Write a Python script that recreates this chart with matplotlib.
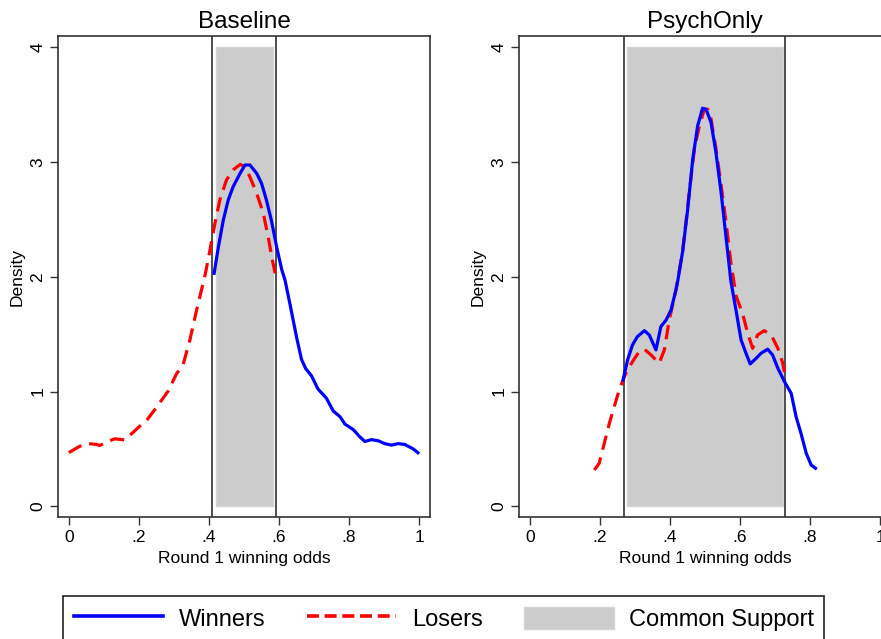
import matplotlib
matplotlib.use("Agg")
import matplotlib.pyplot as plt
from matplotlib.lines import Line2D
from matplotlib.patches import Patch

plt.rcParams['font.family'] = ['Liberation Sans', 'DejaVu Sans']

# ---------------- data ----------------
panel_titles = ["Baseline", "PsychOnly"]
x_ticks = [0, 0.2, 0.4, 0.6, 0.8, 1.0]
x_tick_labels = ["0", ".2", ".4", ".6", ".8", "1"]
y_ticks = [0, 1, 2, 3, 4]
y_tick_labels = ["0", "1", "2", "3", "4"]

# Baseline
base_los_x = [0.0, 0.031, 0.055, 0.079, 0.088, 0.117, 0.131, 0.16, 0.169, 0.203, 0.222, 0.25,
              0.284, 0.307, 0.326, 0.345, 0.364, 0.389, 0.403, 0.417, 0.431, 0.45, 0.469,
              0.489, 0.503, 0.517, 0.536, 0.555, 0.569, 0.579, 0.589]
base_los_y = [0.468, 0.523, 0.546, 0.539, 0.53, 0.571, 0.588, 0.578, 0.604, 0.70, 0.749, 0.862,
              1.007, 1.153, 1.233, 1.443, 1.701, 2.017, 2.235, 2.465, 2.67, 2.845, 2.932,
              2.98, 2.96, 2.87, 2.73, 2.555, 2.35, 2.176, 2.03]
base_win_x = [0.414, 0.427, 0.441, 0.455, 0.469, 0.489, 0.503, 0.517, 0.536, 0.55, 0.564, 0.579,
              0.593, 0.608, 0.617, 0.631, 0.65, 0.664, 0.676, 0.693, 0.711, 0.735, 0.755,
              0.774, 0.788, 0.812, 0.831, 0.845, 0.864, 0.883, 0.902, 0.921, 0.94, 0.959,
              0.983, 1.0]
base_win_y = [2.017, 2.263, 2.496, 2.67, 2.786, 2.903, 2.975, 2.975, 2.903, 2.816, 2.67, 2.481,
              2.263, 2.06, 1.973, 1.766, 1.475, 1.282, 1.201, 1.136, 1.023, 0.943, 0.83,
              0.781, 0.717, 0.668, 0.604, 0.565, 0.581, 0.571, 0.546, 0.533, 0.546, 0.539,
              0.5, 0.458]
base_bounds = [0.41, 0.591]
base_support = [0.419, 0.582]

# PsychOnly
psy_los_x = [0.184, 0.198, 0.227, 0.255, 0.274, 0.293, 0.312, 0.327, 0.346, 0.369, 0.384,
             0.398, 0.417, 0.436, 0.455, 0.47, 0.484, 0.498, 0.508, 0.517, 0.531, 0.546,
             0.56, 0.574, 0.589, 0.607, 0.622, 0.636, 0.65, 0.669, 0.689, 0.708, 0.722,
             0.731]
psy_los_y = [0.316, 0.375, 0.724, 1.014, 1.16, 1.261, 1.348, 1.369, 1.319, 1.247, 1.363,
             1.624, 1.886, 2.218, 2.734, 3.122, 3.316, 3.461, 3.461, 3.38, 3.122, 2.799,
             2.476, 2.121, 1.83, 1.683, 1.508, 1.377, 1.493, 1.531, 1.493, 1.377, 1.247,
             1.101]
psy_win_x = [0.265, 0.279, 0.293, 0.307, 0.327, 0.341, 0.36, 0.374, 0.389, 0.403, 0.417,
             0.422, 0.436, 0.45, 0.465, 0.479, 0.493, 0.503, 0.517, 0.531, 0.546, 0.56,
             0.574, 0.589, 0.603, 0.617, 0.629, 0.646, 0.66, 0.679, 0.693, 0.708, 0.727,
             0.746, 0.76, 0.774, 0.789, 0.803, 0.819]
psy_win_y = [1.086, 1.276, 1.406, 1.479, 1.531, 1.493, 1.363, 1.566, 1.624, 1.711, 1.886,
             1.96, 2.218, 2.573, 3.025, 3.316, 3.47, 3.461, 3.348, 3.09, 2.734, 2.347,
             1.96, 1.701, 1.45, 1.334, 1.241, 1.29, 1.334, 1.369, 1.319, 1.203, 1.086,
             0.985, 0.781, 0.636, 0.462, 0.36, 0.323]
psy_bounds = [0.269, 0.729]
psy_support = [0.278, 0.722]

support_top = 4.0

panels = [
    (base_win_x, base_win_y, base_los_x, base_los_y, base_bounds, base_support),
    (psy_win_x, psy_win_y, psy_los_x, psy_los_y, psy_bounds, psy_support),
]

# ---------------- figure ----------------
W, H = 881, 639
fig = plt.figure(figsize=(W / 100, H / 100), dpi=100)

ax_top_px, ax_bot_px = 36.3, 517.4
ax_w = 372 / W
ax_h = (ax_bot_px - ax_top_px) / H
ax_b = (H - ax_bot_px) / H
lefts = [58 / W, 519 / W]

for i, (wx, wy, lx, ly, bnds, sup) in enumerate(panels):
    ax = fig.add_axes([lefts[i], ax_b, ax_w, ax_h])
    ax.fill_between(sup, [0, 0], [support_top, support_top], facecolor='#cccccc',
                    edgecolor='#d4d4d4', linewidth=1.0, zorder=1)
    for b in bnds:
        ax.axvline(b, color='#404040', linewidth=1.3, zorder=2)
    ax.plot(wx, wy, color='#0000ff', linewidth=2.3, zorder=4, solid_capstyle='butt',
            solid_joinstyle='round')
    ax.plot(lx, ly, color='#ff0000', linewidth=2.3, dashes=(4.5, 2.5), zorder=3)
    ax.set_xlim(-0.031, 1.031)
    ax.set_ylim(-0.097, 4.097)
    ax.set_xticks(x_ticks)
    ax.set_xticklabels(x_tick_labels)
    ax.set_yticks(y_ticks)
    ax.set_yticklabels(y_tick_labels)
    ax.tick_params(axis='both', direction='out', length=6, width=1.0, color='#333333',
                   labelsize=12.5, pad=3)
    ax.tick_params(axis='y', labelrotation=90)
    for lab in ax.get_yticklabels():
        lab.set_va('center')
    for sp in ax.spines.values():
        sp.set_color('#333333')
        sp.set_linewidth(1.2)
    ax.set_xlabel("Round 1 winning odds", fontsize=12.5, labelpad=4.5)
    ax.set_ylabel("Density", fontsize=12.5, labelpad=4)
    ax.set_title(panel_titles[i], fontsize=17.5, pad=6)

handles = [
    Line2D([], [], color='#0000ff', linewidth=2.6),
    Line2D([], [], color='#ff0000', linewidth=2.6, dashes=(3.3, 1.6)),
    Patch(facecolor='#cccccc', edgecolor='#d4d4d4', linewidth=1.0),
]
labels = ["Winners", "Losers", "Common Support"]
leg = fig.legend(handles, labels, ncol=3, loc='upper left',
                 bbox_to_anchor=(63 / W, 1 - 596 / H), fontsize=17, frameon=True,
                 fancybox=False, edgecolor='#222222', framealpha=1,
                 handlelength=3.8, handleheight=1.1, handletextpad=0.65,
                 columnspacing=1.75, borderpad=0.45, borderaxespad=0)
leg.get_frame().set_linewidth(1.2)

fig.savefig("out.png", dpi=100)
